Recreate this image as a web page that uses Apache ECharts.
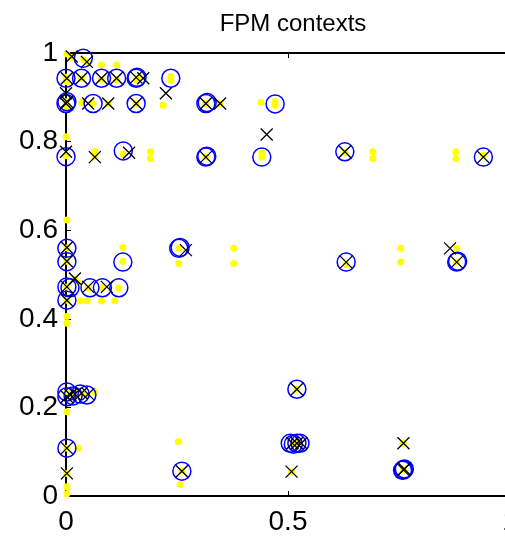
<!DOCTYPE html>
<html>
<head>
<meta charset="utf-8">
<script src="https://cdn.jsdelivr.net/npm/echarts@6/dist/echarts.min.js"></script>
<style>
  html, body { margin: 0; padding: 0; background: #fff; }
  #chart { width: 505px; height: 540px; }
</style>
</head>
<body>
<div id="chart"></div>
<script>
// yellow dots
const yellowPts = [
  [0.002, 0.998], [0.013, 0.99], [0.04, 0.985], [0.05, 0.978], [0.08, 0.973], [0.114, 0.973],
  [0, 0.945], [0.002, 0.935], [0.035, 0.943], [0.08, 0.94], [0.114, 0.94], [0.158, 0.94], [0.165, 0.945], [0.236, 0.947], [0.236, 0.938],
  [0, 0.89], [0, 0.875], [0.035, 0.888], [0.061, 0.886], [0.095, 0.886], [0.158, 0.886], [0.219, 0.882], [0.315, 0.886], [0.347, 0.886], [0.439, 0.888], [0.471, 0.89], [0.471, 0.882],
  [0, 0.811], [0, 0.768], [0.065, 0.778], [0.065, 0.765], [0.128, 0.772], [0.19, 0.777], [0.19, 0.762], [0.315, 0.765], [0.441, 0.765], [0.441, 0.775], [0.628, 0.775], [0.691, 0.777], [0.691, 0.762], [0.878, 0.777], [0.878, 0.762], [0.94, 0.77],
  [0.002, 0.623], [0.002, 0.56], [0.002, 0.53], [0.128, 0.561], [0.128, 0.53], [0.254, 0.559], [0.254, 0.525], [0.378, 0.559], [0.378, 0.525], [0.631, 0.522], [0.754, 0.559], [0.754, 0.528], [0.88, 0.559], [0.88, 0.528],
  [0.002, 0.472], [0.02, 0.49], [0.03, 0.48], [0.05, 0.47], [0.082, 0.47], [0.119, 0.47], [0.032, 0.441], [0.048, 0.441], [0.08, 0.44], [0.11, 0.441], [0.002, 0.442], [0.002, 0.405], [0.002, 0.39],
  [0.002, 0.235], [0.016, 0.23], [0.032, 0.232], [0.047, 0.228], [0.065, 0.235], [0.002, 0.19],
  [0.002, 0.108], [0.028, 0.108], [0.002, 0.051], [0.002, 0.021], [0.002, 0.005],
  [0.253, 0.123], [0.261, 0.056], [0.257, 0.026], [0.52, 0.241], [0.512, 0.119], [0.52, 0.119], [0.508, 0.055], [0.76, 0.119], [0.76, 0.059]
];

// blue circles
const circlePts = [
  [0.039, 0.988],
  [0, 0.943], [0.035, 0.943], [0.08, 0.943], [0.114, 0.943], [0.158, 0.943], [0.16, 0.945], [0.236, 0.943],
  [0, 0.886], [0.002, 0.89], [0.061, 0.886], [0.158, 0.886], [0.315, 0.886], [0.318, 0.888], [0.471, 0.885],
  [0, 0.766], [0.129, 0.779], [0.315, 0.765], [0.317, 0.767], [0.441, 0.765], [0.628, 0.777], [0.94, 0.765],
  [0.002, 0.559], [0.002, 0.529], [0.128, 0.528], [0.254, 0.559], [0.257, 0.561], [0.631, 0.528], [0.88, 0.528], [0.882, 0.53],
  [0.002, 0.472], [0.009, 0.47], [0.054, 0.47], [0.082, 0.47], [0.119, 0.47], [0.002, 0.442],
  [0.002, 0.224], [0.002, 0.235], [0.016, 0.226], [0.032, 0.23], [0.047, 0.228],
  [0.002, 0.108],
  [0.261, 0.056], [0.52, 0.241], [0.505, 0.119], [0.512, 0.117], [0.52, 0.119], [0.527, 0.119], [0.76, 0.059], [0.762, 0.061], [0.758, 0.058]
];

// black crosses
const crossPts = [
  [0.013, 0.992], [0.047, 0.98],
  [0.002, 0.943], [0.035, 0.943], [0.08, 0.943], [0.114, 0.943], [0.158, 0.945], [0.174, 0.943],
  [0, 0.886], [0.002, 0.89], [0, 0.909], [0.05, 0.886], [0.095, 0.886], [0.158, 0.886], [0.225, 0.909], [0.315, 0.886], [0.347, 0.886], [0.452, 0.816],
  [0, 0.777], [0.065, 0.765], [0.142, 0.775], [0.315, 0.765], [0.628, 0.777], [0.94, 0.765],
  [0.002, 0.561], [0.002, 0.53], [0.27, 0.555], [0.631, 0.528], [0.865, 0.559], [0.88, 0.528],
  [0.02, 0.491], [0.002, 0.472], [0.05, 0.472], [0.092, 0.472], [0.002, 0.442],
  [0.002, 0.224], [0.01, 0.228], [0.02, 0.23], [0.035, 0.232], [0.05, 0.23],
  [0.002, 0.108], [0.002, 0.051],
  [0.261, 0.056], [0.52, 0.241], [0.51, 0.119], [0.52, 0.119], [0.53, 0.119], [0.508, 0.055], [0.76, 0.119], [0.76, 0.059], [0.762, 0.061]
];

const titleText = 'FPM contexts';

const chart = echarts.init(document.getElementById('chart'));

const lbl = { fontFamily: 'Liberation Sans, Arial, sans-serif', fontSize: 28, color: '#000' };
const axisLine = { show: true, onZero: false, lineStyle: { color: '#000', width: 2 } };
const tick = { show: true, inside: true, length: 5, lineStyle: { color: '#000', width: 1 } };

chart.setOption({
  animation: false,
  title: {
    text: titleText,
    left: 288,
    textAlign: 'center',
    top: 7,
    textStyle: { fontFamily: 'Liberation Sans, Arial, sans-serif', fontSize: 24, fontWeight: 'normal', color: '#000' }
  },
  grid: { left: 66, top: 53, width: 444, height: 443, outerBoundsMode: 'none' },
  xAxis: [
    {
      type: 'value', min: 0, max: 1, interval: 0.5, position: 'bottom',
      axisLine, axisTick: tick, splitLine: { show: false },
      axisLabel: Object.assign({ margin: 12 }, lbl)
    },
    {
      type: 'value', min: 0, max: 1, interval: 0.5, position: 'top',
      axisLine, axisTick: tick, splitLine: { show: false },
      axisLabel: { show: false }
    }
  ],
  yAxis: [
    {
      type: 'value', min: 0, max: 1, interval: 0.2, position: 'left',
      axisLine, axisTick: tick, splitLine: { show: false },
      axisLabel: Object.assign({ margin: 8 }, lbl)
    },
    {
      type: 'value', min: 0, max: 1, interval: 0.2, position: 'right',
      axisLine, axisTick: tick, splitLine: { show: false },
      axisLabel: { show: false }
    }
  ],
  series: [
    {
      type: 'scatter', data: yellowPts, clip: false,
      symbol: 'circle', symbolSize: 7,
      itemStyle: { color: '#ffff00', opacity: 1 }
    },
    {
      type: 'scatter', data: circlePts, clip: false,
      symbol: 'circle', symbolSize: 18,
      itemStyle: { color: 'rgba(0,0,0,0)', borderColor: '#0000ff', borderWidth: 1.5, opacity: 1 }
    },
    {
      type: 'scatter', data: crossPts, clip: false,
      symbol: 'path://M0,0L10,10M10,0L0,10', symbolSize: 12,
      itemStyle: { color: 'rgba(0,0,0,0)', borderColor: '#000', borderWidth: 1.3, opacity: 1 }
    }
  ]
});
</script>
</body>
</html>
